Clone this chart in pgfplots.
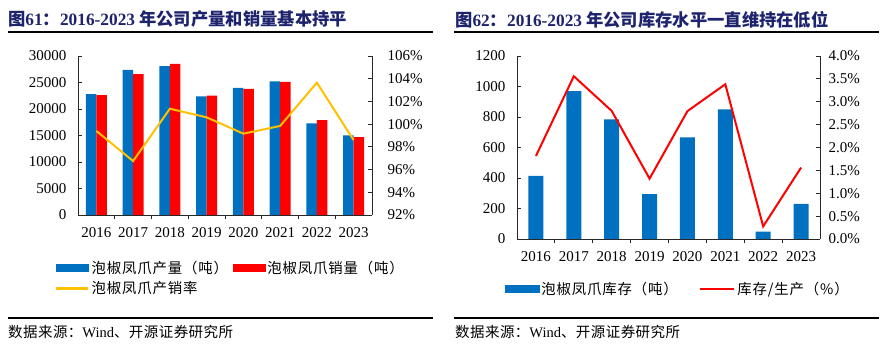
\documentclass[border=0pt]{standalone}
\usepackage{pgfplots}
\pgfplotsset{compat=1.18}
\usepackage{fontspec}
\setmainfont{Liberation Serif}
\newfontfamily\cjk{Noto Sans CJK SC}
\newfontfamily\cjkleg[LetterSpace=6]{Noto Sans CJK SC}
\newfontfamily\cjksrc[LetterSpace=3]{Noto Sans CJK SC}
\definecolor{cblue}{HTML}{0070C0}
\definecolor{cred}{HTML}{FF0000}
\definecolor{cyel}{HTML}{FFC000}
\definecolor{ctitle}{RGB}{30,35,110}
\definecolor{caxis}{RGB}{40,40,40}
\pgfplotsset{
  base/.style={
    scale only axis,
    axis line style={caxis, line width=0.8bp},
    tick style={caxis, line width=0.8bp},
    tick align=inside,
    major tick length=4bp,
    minor tick length=4bp,
    ticklabel style={font=\fontsize{15bp}{18bp}\selectfont, text=black},
    /pgf/number format/assume math mode=true,
    /pgf/number format/1000 sep={},
    scaled y ticks=false,
    xmin=-0.5, xmax=7.5,
  },
  legstyle/.style={
    legend style={draw=none, fill=none, inner sep=0pt, outer sep=0pt,
      font=\cjkleg\fontsize{14.4bp}{16bp}\selectfont,
      column sep=0bp, row sep=3bp,
      /tikz/every even column/.append style={column sep=#1}},
    legend cell align=left,
  },
}
\begin{document}
\begin{tikzpicture}
\path[use as bounding box] (0,0) rectangle (884bp,355bp);
% ---------- left chart ----------
\node[anchor=west, text=ctitle, inner sep=0pt] at (8bp,335.5bp)
  {\fontsize{17.3bp}{19bp}\selectfont\bfseries{\cjk 图}61{\cjk ：}2016-2023 {\cjk 年公司产量和销量基本持平}};
\draw[line width=1.3bp] (8bp,323bp) -- (433bp,323bp);
\draw[line width=1.3bp] (8bp,37bp) -- (433bp,37bp);
\node[anchor=west, inner sep=0pt] at (8bp,23bp)
  {\fontsize{14.5bp}{16bp}\selectfont{\cjksrc 数据来源：}Wind{\cjksrc 、开源证券研究所}};

\begin{axis}[base, at={(78bp,140bp)}, anchor=south west, width=294bp, height=159bp,
  ymin=0, ymax=30000, ytick={0,5000,...,30000},
  axis x line*=bottom, axis y line*=left,
  xtick={0,...,7}, xticklabels={2016,2017,2018,2019,2020,2021,2022,2023},
  major x tick style={draw=none}, minor xtick={0.5,1.5,...,6.5},
  xticklabel style={yshift=-5.5bp}, yticklabel style={xshift=-8bp},
  ybar, bar width=10.5bp]
\addplot[fill=cblue, draw=none, bar shift=-5.25bp] coordinates
  {(0,22800) (1,27400) (2,28100) (3,22400) (4,24000) (5,25200) (6,17300) (7,15000)};
\addplot[fill=cred, draw=none, bar shift=5.25bp] coordinates
  {(0,22600) (1,26600) (2,28500) (3,22500) (4,23800) (5,25100) (6,17900) (7,14700)};
\end{axis}
\begin{axis}[base, legstyle=3bp, at={(78bp,140bp)}, anchor=south west, width=294bp, height=159bp,
  ymin=92, ymax=106, ytick={92,94,...,106},
  axis y line*=right, axis x line=none,
  yticklabel={\pgfmathprintnumber{\tick}\%}, yticklabel style={xshift=12bp},
  legend columns=2,
  legend style={at={(axis description cs:-0.0782,-0.396)}, anchor=west}]
\addlegendimage{legend image code/.code={\fill[cblue] (0bp,-3.5bp) rectangle (32bp,3.5bp);}}
\addlegendentry{泡椒凤爪产量（吨）}
\addlegendimage{legend image code/.code={\fill[cred] (0bp,-3.5bp) rectangle (32bp,3.5bp);}}
\addlegendentry{泡椒凤爪销量（吨）}
\addplot[cyel, line width=2bp, no markers,
  legend image code/.code={\draw[cyel, line width=2.5bp] (0bp,0bp) -- (32bp,0bp);}] coordinates
  {(0,99.4) (1,96.75) (2,101.36) (3,100.6) (4,99.16) (5,99.84) (6,103.65) (7,98.6)};
\addlegendentry{泡椒凤爪产销率}
\end{axis}

% ---------- right chart ----------
\node[anchor=west, text=ctitle, inner sep=0pt] at (455bp,335.5bp)
  {\fontsize{17.3bp}{19bp}\selectfont\bfseries{\cjk 图}62{\cjk ：}2016-2023 {\cjk 年公司库存水平一直维持在低位}};
\draw[line width=1.3bp] (454bp,323bp) -- (879bp,323bp);
\draw[line width=1.3bp] (454bp,37bp) -- (879bp,37bp);
\node[anchor=west, inner sep=0pt] at (455bp,23bp)
  {\fontsize{14.5bp}{16bp}\selectfont{\cjksrc 数据来源：}Wind{\cjksrc 、开源证券研究所}};

\begin{axis}[base, at={(517bp,116bp)}, anchor=south west, width=303bp, height=183bp,
  ymin=0, ymax=1200, ytick={0,200,...,1200},
  axis x line*=bottom, axis y line*=left,
  xtick={0,...,7}, xticklabels={2016,2017,2018,2019,2020,2021,2022,2023},
  major x tick style={draw=none}, minor xtick={0.5,1.5,...,6.5},
  xticklabel style={yshift=-5.5bp}, yticklabel style={xshift=-8bp},
  ybar, bar width=15bp]
\addplot[fill=cblue, draw=none, bar shift=0bp] coordinates
  {(0,414) (1,970) (2,784) (3,294) (4,667) (5,850) (6,48) (7,231)};
\end{axis}
\begin{axis}[base, legstyle=19bp, at={(517bp,116bp)}, anchor=south west, width=303bp, height=183bp,
  ymin=0, ymax=4, ytick={0,0.5,1,1.5,2,2.5,3,3.5,4},
  axis y line*=right, axis x line=none,
  yticklabel={\pgfmathprintnumber[fixed,fixed zerofill,precision=1]{\tick}\%},
  yticklabel style={xshift=5bp},
  legend columns=2,
  legend style={at={(axis description cs:-0.0396,-0.273)}, anchor=west}]
\addlegendimage{legend image code/.code={\fill[cblue] (0bp,-3.5bp) rectangle (34bp,3.5bp);}}
\addlegendentry{泡椒凤爪库存（吨）}
\addplot[cred, line width=2bp, no markers,
  legend image code/.code={\draw[cred, line width=2.5bp] (0bp,0bp) -- (34bp,0bp);}] coordinates
  {(0,1.815) (1,3.557) (2,2.80) (3,1.32) (4,2.795) (5,3.383) (6,0.276) (7,1.561)};
\addlegendentry{库存/生产（\%）}
\end{axis}
\end{tikzpicture}
\end{document}
